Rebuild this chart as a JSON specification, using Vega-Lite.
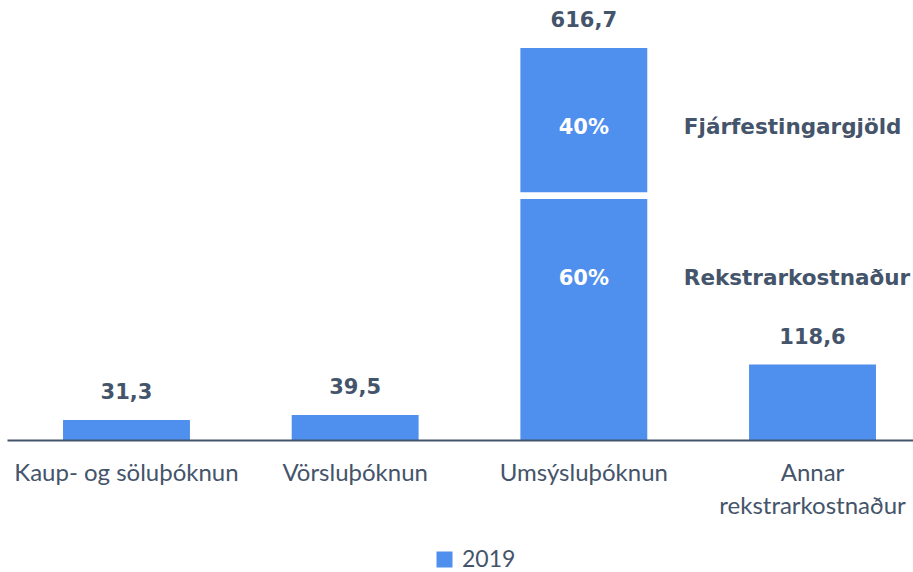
{
  "$schema": "https://vega.github.io/schema/vega-lite/v6.json",
  "width": 913,
  "height": 440,
  "autosize": {"type": "none"},
  "padding": {"left": 0, "top": 0, "right": 0, "bottom": 132},
  "background": "white",
  "config": {
    "view": {"stroke": null},
    "locale": {"number": {"decimal": ",", "thousands": ".", "grouping": [3], "currency": ["", " kr."]}}
  },
  "data": {
    "values": [
      {"flokkur": "Kaup- og söluþóknun", "ar": "2019", "fra": 0, "til": 31.3, "samtals": 31.3},
      {"flokkur": "Vörsluþóknun", "ar": "2019", "fra": 0, "til": 39.5, "samtals": 39.5},
      {"flokkur": "Umsýsluþóknun", "ar": "2019", "hluti": "Rekstrarkostnaður", "hlutfall": "60%", "fra": 0, "til": 379},
      {"flokkur": "Umsýsluþóknun", "ar": "2019", "hluti": "Fjárfestingargjöld", "hlutfall": "40%", "fra": 390, "til": 616.7, "samtals": 616.7},
      {"flokkur": "Annar rekstrarkostnaður", "ar": "2019", "fra": 0, "til": 118.6, "samtals": 118.6}
    ]
  },
  "encoding": {
    "x": {
      "field": "flokkur",
      "type": "nominal",
      "sort": null,
      "scale": {"range": [7, 932], "paddingInner": 0.445, "paddingOuter": 0.245},
      "axis": {
        "title": null,
        "labelAngle": 0,
        "labelLimit": 0,
        "labelFont": "Lato",
        "labelFontSize": 24,
        "labelColor": "#44546A",
        "labelPadding": 21,
        "labelBaseline": "top",
        "labelLineHeight": 33,
        "labelExpr": "datum.label == 'Annar rekstrarkostnaður' ? ['Annar', 'rekstrarkostnaður'] : datum.label",
        "ticks": false,
        "grid": false,
        "domainColor": "#44546A",
        "domainWidth": 2,
        "zindex": 1
      }
    }
  },
  "layer": [
    {
      "mark": {"type": "bar"},
      "encoding": {
        "y": {"field": "fra", "type": "quantitative", "scale": {"domain": [0, 692.3], "nice": false, "zero": true}, "axis": null},
        "y2": {"field": "til"},
        "color": {
          "field": "ar",
          "type": "nominal",
          "scale": {"range": ["#4F8FEE"]},
          "legend": {
            "title": null,
            "orient": "none",
            "legendX": 433,
            "legendY": 548,
            "symbolType": "square",
            "symbolSize": 256,
            "symbolStrokeWidth": 0,
            "labelFont": "Lato",
            "labelFontSize": 23,
            "labelColor": "#44546A",
            "labelOffset": 6
          }
        }
      }
    },
    {
      "transform": [{"filter": "isValid(datum.samtals)"}],
      "mark": {"type": "text", "font": "DejaVu Sans", "fontWeight": "bold", "fontSize": 21, "color": "#44546A", "baseline": "middle", "dy": -27},
      "encoding": {
        "y": {"field": "samtals", "type": "quantitative"},
        "text": {"field": "samtals", "type": "quantitative", "format": ".1f"}
      }
    },
    {
      "transform": [{"filter": "isValid(datum.hlutfall)"}],
      "mark": {"type": "text", "font": "DejaVu Sans", "fontWeight": "bold", "fontSize": 21, "color": "white", "baseline": "middle", "dy": 80},
      "encoding": {
        "y": {"field": "til", "type": "quantitative"},
        "text": {"field": "hlutfall", "type": "nominal"}
      }
    },
    {
      "transform": [{"filter": "isValid(datum.hluti)"}],
      "mark": {"type": "text", "font": "DejaVu Sans", "fontWeight": "bold", "fontSize": 21.5, "color": "#44546A", "baseline": "middle", "align": "left", "dx": 100, "dy": 80},
      "encoding": {
        "y": {"field": "til", "type": "quantitative"},
        "text": {"field": "hluti", "type": "nominal"}
      }
    }
  ]
}
